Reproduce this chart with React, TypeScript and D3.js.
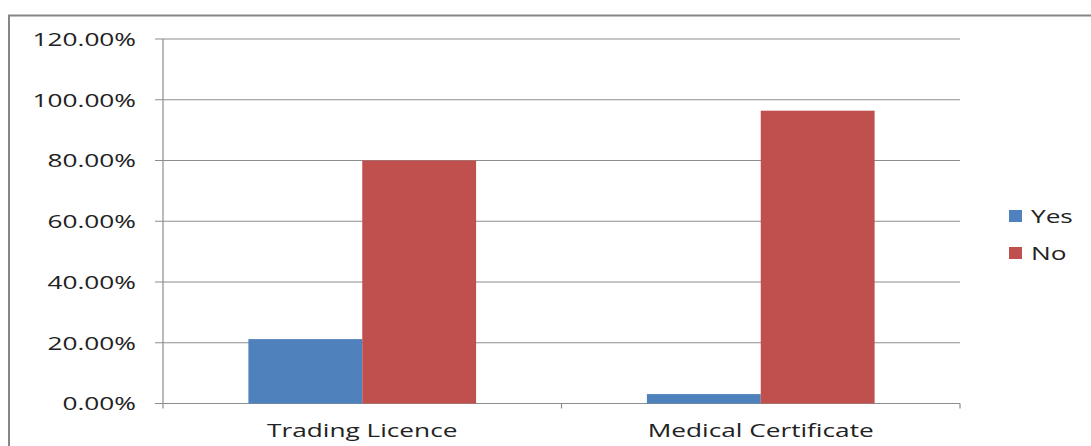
import React from "react";
import * as d3 from "d3";

const categories = ["Trading Licence", "Medical Certificate"];
const seriesNames = ["Yes", "No"];
const yesValues = [21.2, 3.1];
const noValues = [80.0, 96.4];
const yTicks = [0, 20, 40, 60, 80, 100, 120];
const seriesColors = ["#4F81BD", "#C0504D"];

const W = 1091;
const H = 446;
const plot = { left: 163, right: 960, top: 39, bottom: 403.5 };
const FONT = "'Open Sans', 'DejaVu Sans', sans-serif";
const STRETCH = 1.38; // labels are drawn horizontally widened

function Label(props: { x: number; y: number; anchor: "start" | "middle" | "end"; children: React.ReactNode }) {
  return (
    <text
      transform={`translate(${props.x},${props.y}) scale(${STRETCH},1)`}
      dy="0.36em"
      textAnchor={props.anchor}
      fontFamily={FONT}
      fontSize={19}
      fill="#222"
    >
      {props.children}
    </text>
  );
}

export default function App() {
  const x = d3
    .scaleBand<string>()
    .domain(categories)
    .range([plot.left, plot.right])
    .paddingInner(0)
    .paddingOuter(0);
  const y = d3.scaleLinear().domain([0, 120]).range([plot.bottom, plot.top]);
  const bw = x.bandwidth() / 3.5; // gap width of 150%
  const series = [yesValues, noValues];

  return (
    <svg width={W} height={H} style={{ position: "absolute", left: 0, top: 0 }}>
      <rect x={0} y={0} width={W} height={H} fill="#fff" />
      {/* chart frame */}
      <path d={`M9,${H} V15.5 H${W}`} fill="none" stroke="#868686" strokeWidth={2} />
      {/* gridlines and y ticks */}
      {yTicks.map((t) => (
        <g key={t}>
          <line x1={155} x2={plot.right} y1={y(t)} y2={y(t)} stroke="#8c8c8c" strokeWidth={1.2} />
          <Label x={136} y={y(t)} anchor="end">
            {t.toFixed(2) + "%"}
          </Label>
        </g>
      ))}
      {/* y axis */}
      <line x1={plot.left} x2={plot.left} y1={plot.top} y2={plot.bottom + 5} stroke="#8c8c8c" strokeWidth={1.2} />
      {/* category ticks */}
      {categories.map((c) => (
        <line
          key={c}
          x1={(x(c) as number) + x.bandwidth()}
          x2={(x(c) as number) + x.bandwidth()}
          y1={plot.bottom}
          y2={plot.bottom + 5}
          stroke="#8c8c8c"
          strokeWidth={1.2}
        />
      ))}
      {/* bars */}
      {categories.map((c, ci) =>
        series.map((vals, si) => {
          const x0 = (x(c) as number) + bw * 0.75 + si * bw;
          return (
            <rect
              key={c + si}
              x={x0}
              y={y(vals[ci])}
              width={bw}
              height={plot.bottom - y(vals[ci])}
              fill={seriesColors[si]}
            />
          );
        })
      )}
      {/* category labels */}
      {categories.map((c) => (
        <Label key={c} x={(x(c) as number) + x.bandwidth() / 2} y={430} anchor="middle">
          {c}
        </Label>
      ))}
      {/* legend */}
      {seriesNames.map((s, i) => (
        <g key={s}>
          <rect x={1009} y={210 + i * 37} width={13} height={12} fill={seriesColors[i]} />
          <Label x={1031} y={216 + i * 37} anchor="start">
            {s}
          </Label>
        </g>
      ))}
    </svg>
  );
}
